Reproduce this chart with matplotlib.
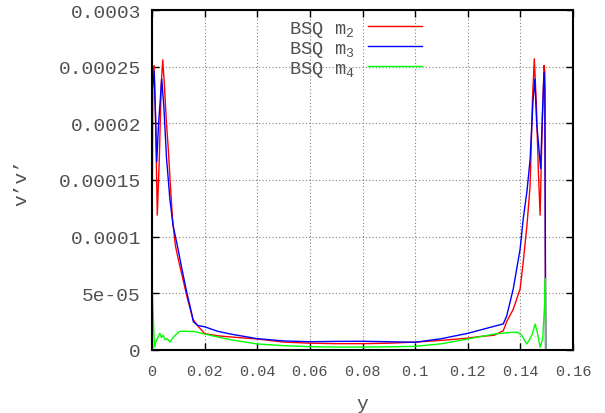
import numpy as np
import matplotlib
matplotlib.use("Agg")
import matplotlib.pyplot as plt

plt.rcParams['font.family'] = ['Liberation Mono', 'DejaVu Sans']
plt.rcParams['mathtext.fontset'] = 'custom'
plt.rcParams['mathtext.rm'] = 'Liberation Mono'
plt.rcParams['mathtext.it'] = 'Liberation Mono'

# BSQ m2 profile (y, v'v' in units of 1e-6)
y_m2 = [0, 0.0002, 0.0008, 0.0014, 0.002, 0.0028, 0.0035, 0.0041, 0.0048, 0.0055,
        0.0062, 0.0070, 0.0078, 0.0089, 0.0100, 0.0118, 0.0135, 0.0156, 0.0175, 0.020,
        0.025, 0.03, 0.04, 0.05, 0.06, 0.07, 0.08, 0.09, 0.10, 0.11,
        0.12, 0.125, 0.13, 0.1335, 0.1348, 0.1373, 0.1399, 0.1411, 0.1425, 0.1437,
        0.1446, 0.1453, 0.1461, 0.1468, 0.1475, 0.1482, 0.149, 0.1493, 0.1496]
v_m2 = [0, 245, 251, 200, 119, 170, 235, 256, 230, 200,
        177, 145, 115, 92, 80, 62, 45, 27, 21, 14.5,
        12.5, 11.5, 9.7, 7, 6, 5.6, 5.6, 6, 7, 8.5,
        10.5, 12, 13, 17, 25, 36, 54, 78, 110, 145,
        221, 257, 215, 160, 119, 190, 251, 245, 0]

# BSQ m3 profile
y_m3 = [0, 0.0002, 0.0008, 0.0013, 0.0018, 0.0025, 0.0037, 0.0045, 0.0055, 0.0068,
        0.0080, 0.0099, 0.0115, 0.0132, 0.0150, 0.0157, 0.0175, 0.020, 0.025, 0.03,
        0.04, 0.05, 0.06, 0.07, 0.08, 0.09, 0.10, 0.11, 0.12, 0.13,
        0.1335, 0.1348, 0.1373, 0.1399, 0.1411, 0.1425, 0.1437, 0.1448, 0.1455, 0.1462,
        0.1477, 0.1484, 0.1490, 0.1493, 0.1496]
v_m3 = [0, 230, 246, 210, 166, 200, 239, 215, 170, 133,
        110, 89, 70, 51, 33, 25, 21.5, 20.5, 16.5, 14,
        10, 8, 7.3, 7.6, 7.7, 7.3, 6.8, 10, 14.7, 20.9,
        23, 30, 54, 89, 116, 140, 168, 220, 239, 200,
        160, 210, 245, 230, 0]

# BSQ m4 profile
y_m4 = [0, 0.0003, 0.0008, 0.0010, 0.0016, 0.0024, 0.0030, 0.0036, 0.0042, 0.0050,
        0.0058, 0.0068, 0.0080, 0.0095, 0.0106, 0.013, 0.016, 0.020, 0.025, 0.03,
        0.04, 0.05, 0.06, 0.07, 0.08, 0.09, 0.10, 0.11, 0.12, 0.13,
        0.1367, 0.139, 0.1405, 0.1424, 0.1435, 0.1445, 0.1456, 0.1465, 0.1475, 0.1485,
        0.1492, 0.1495, 0.1496]
v_m4 = [63, 40, 10, 2.6, 8, 12, 14.7, 11, 13, 9,
        10, 7, 11, 14.5, 16.5, 16.5, 16.3, 14.1, 11.5, 9,
        5.3, 3.8, 2.9, 2.6, 2.6, 2.8, 3.2, 5.5, 9.7, 14.1,
        15.6, 15.5, 13, 5.3, 9, 14, 22.9, 15, 2.5, 10,
        40, 63, 0]

xticks = [0, 0.02, 0.04, 0.06, 0.08, 0.1, 0.12, 0.14, 0.16]
xtick_labels = ['0', '0.02', '0.04', '0.06', '0.08', '0.1', '0.12', '0.14', '0.16']
yticks = [0, 5e-05, 0.0001, 0.00015, 0.0002, 0.00025, 0.0003]
ytick_labels = ['0', '5e-05', '0.0001', '0.00015', '0.0002', '0.00025', '0.0003']

txt = '#505050'

fig = plt.figure(figsize=(6.05, 4.14), dpi=100)
ax = fig.add_axes([152 / 605, 63 / 414, 421 / 605, 340 / 414])

ax.plot(y_m2, np.array(v_m2) * 1e-6, color='#ff0000', lw=1.0, label='BSQ m$_2$')
ax.plot(y_m3, np.array(v_m3) * 1e-6, color='#0000ff', lw=1.0, label='BSQ m$_3$')
ax.plot(y_m4, np.array(v_m4) * 1e-6, color='#00ff00', lw=1.0, label='BSQ m$_4$')

ax.set_xlim(0, 0.16)
ax.set_ylim(0, 0.0003)
ax.set_xticks(xticks)
ax.set_xticklabels(xtick_labels, fontsize=11, color=txt)
ax.set_yticks(yticks)
ax.set_yticklabels(ytick_labels, fontsize=14, color=txt)
ax.tick_params(direction='in', length=5, width=1, top=True, right=True, pad=8)
ax.tick_params(axis='x', pad=10)
ax.grid(True, color='#808080', linestyle=(0, (1, 2)), linewidth=0.8)
for s in ax.spines.values():
    s.set_linewidth(1.5)

fig.text(362 / 605, 1 - 405 / 414, 'y', fontsize=14, color=txt, ha='center', va='center')
fig.text(22 / 605, 1 - 183 / 414, 'v’v’', fontsize=14, color=txt,
         rotation=90, ha='center', va='center')

leg = ax.legend(loc='upper right', bbox_to_anchor=(422 / 605, 1 - 20 / 414),
                bbox_transform=fig.transFigure, frameon=False, markerfirst=False,
                fontsize=13.5, handlelength=2.9, handletextpad=0.7,
                labelspacing=0.0, borderpad=0, borderaxespad=0)
for t in leg.get_texts():
    t.set_color(txt)

fig.savefig('out.png', dpi=100)
